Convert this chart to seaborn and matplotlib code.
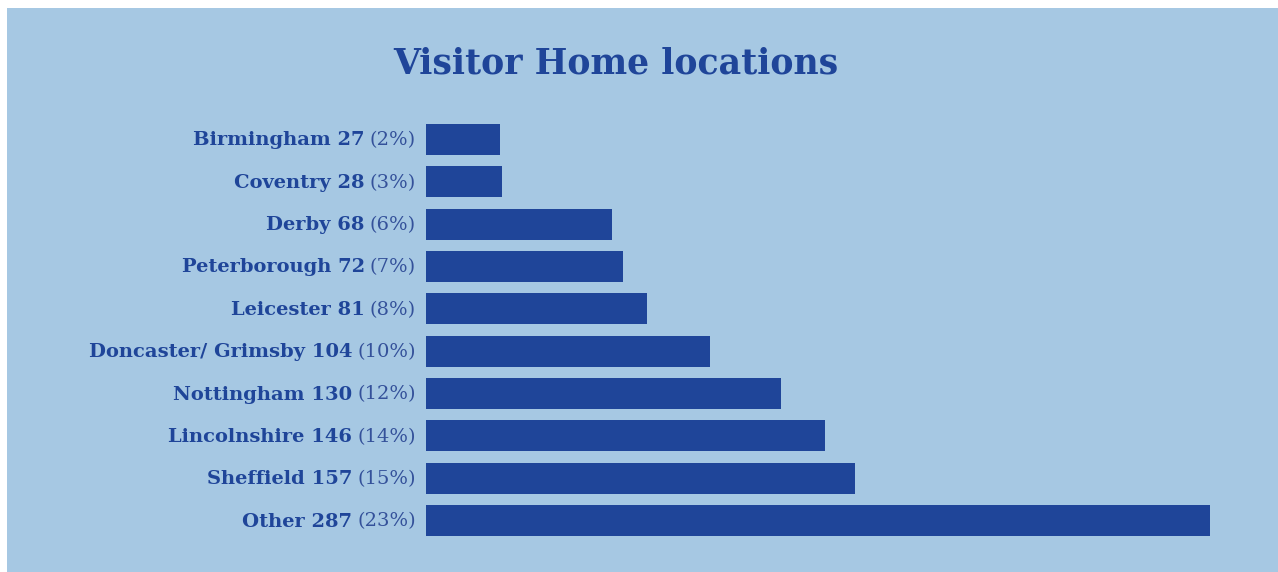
import matplotlib
matplotlib.use("Agg")
import matplotlib.pyplot as plt
import seaborn as sns
import pandas as pd

# data
places = ["Birmingham", "Coventry", "Derby", "Peterborough", "Leicester",
          "Doncaster/ Grimsby", "Nottingham", "Lincolnshire", "Sheffield", "Other"]
visitors = [27, 28, 68, 72, 81, 104, 130, 146, 157, 287]
shares = [2, 3, 6, 7, 8, 10, 12, 14, 15, 23]

BG = "#a6c8e3"
BAR = "#1f4599"
TXT = "#1f4599"
TXT2 = "#34519a"
FONT = "DejaVu Serif"

sns.set_style("white")
plt.rcParams["font.family"] = [FONT, "DejaVu Sans"]

df = pd.DataFrame({"place": places, "visitors": visitors})

fig = plt.figure(figsize=(12.78, 5.72), dpi=100)
fig.patch.set_facecolor("white")
# light blue panel, with thin white strip on left/top like the original
fig.patches.append(plt.Rectangle((7 / 1278, 0), 1, 1 - 8 / 572, transform=fig.transFigure,
                                 facecolor=BG, edgecolor="none", zorder=-1))

ax = fig.add_axes([426 / 1278, 1 - 541.7 / 572, (1210 - 426) / 1278, (541.7 - 118.3) / 572])
ax.set_facecolor("none")
sns.barplot(data=df, x="visitors", y="place", orient="h", color=BAR, width=0.73,
            saturation=1, linewidth=0, ax=ax)
ax.set_xlim(0, max(visitors))
ax.set_ylim(len(places) - 0.5, -0.5)
for s in ax.spines.values():
    s.set_visible(False)
ax.set_xticks([])
ax.set_yticks([])
ax.set_xlabel("")
ax.set_ylabel("")

fig.canvas.draw()
rend = fig.canvas.get_renderer()
for i, (p, v, sh) in enumerate(zip(places, visitors, shares)):
    t2 = ax.annotate(f"({sh}%)", xy=(0, i), xytext=(-10, -1), textcoords="offset pixels",
                     ha="right", va="center", fontsize=14, color=TXT2, fontfamily=FONT)
    w = t2.get_window_extent(rend).width
    ax.annotate(f"{p} {v}", xy=(0, i), xytext=(-10 - w - 5, -1), textcoords="offset pixels",
                ha="right", va="center", fontsize=14, color=TXT, fontweight="bold",
                fontfamily=FONT)

fig.text(616 / 1278, 1 - 64 / 572, "Visitor Home locations", ha="center", va="center",
         fontsize=25, fontweight="bold", color=TXT, fontfamily=FONT)

fig.savefig("out.png", dpi=100, facecolor=fig.get_facecolor())
